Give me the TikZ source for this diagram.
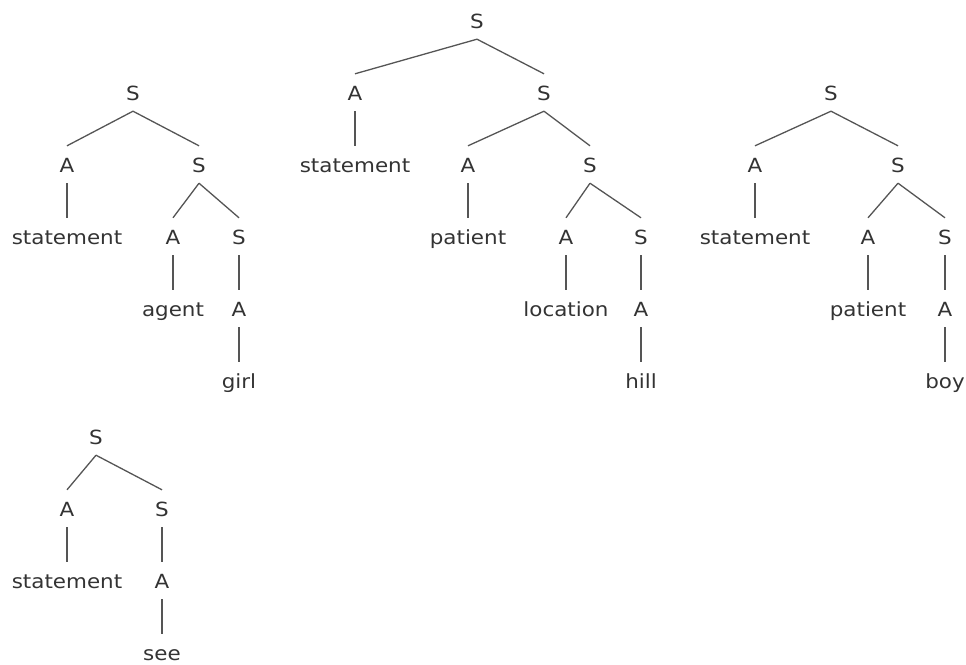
\documentclass[tikz,border=0pt]{standalone}
\usepackage{fontspec}
\setmainfont[FakeStretch=1.1]{DejaVu Sans}
\definecolor{txt}{HTML}{333333}
\definecolor{ln}{HTML}{555555}
\begin{document}
\begin{tikzpicture}[x=1pt,y=-1pt,
  lbl/.style={anchor=base,inner xsep=0pt,inner ysep=11pt,text height=15pt,text depth=0pt,
    font=\fontsize{19.5}{20}\selectfont,text=txt},
  edge/.style={draw=ln,line width=1.3pt}]
\useasboundingbox (0,0) rectangle (966,664);
% Tree 1
\node[lbl] (a0) at (133,100) {S};
\node[lbl] (a1) at (67,172) {A};
\node[lbl] (a2) at (199,172) {S};
\node[lbl] (a3) at (67,244) {statement};
\node[lbl] (a4) at (173,244) {A};
\node[lbl] (a5) at (239,244) {S};
\node[lbl] (a6) at (173,316) {agent};
\node[lbl] (a7) at (239,316) {A};
\node[lbl] (a8) at (239,388) {girl};
\draw[edge] (a0.south) -- (a1.north);
\draw[edge] (a0.south) -- (a2.north);
\draw[edge] (a1.south) -- (a3.north);
\draw[edge] (a2.south) -- (a4.north);
\draw[edge] (a2.south) -- (a5.north);
\draw[edge] (a4.south) -- (a6.north);
\draw[edge] (a5.south) -- (a7.north);
\draw[edge] (a7.south) -- (a8.north);
% Tree 2
\node[lbl] (b0) at (477,28) {S};
\node[lbl] (b1) at (355,100) {A};
\node[lbl] (b2) at (544,100) {S};
\node[lbl] (b3) at (355,172) {statement};
\node[lbl] (b4) at (468,172) {A};
\node[lbl] (b5) at (590,172) {S};
\node[lbl] (b6) at (468,244) {patient};
\node[lbl] (b7) at (566,244) {A};
\node[lbl] (b8) at (641,244) {S};
\node[lbl] (b9) at (566,316) {location};
\node[lbl] (b10) at (641,316) {A};
\node[lbl] (b11) at (641,388) {hill};
\draw[edge] (b0.south) -- (b1.north);
\draw[edge] (b0.south) -- (b2.north);
\draw[edge] (b1.south) -- (b3.north);
\draw[edge] (b2.south) -- (b4.north);
\draw[edge] (b2.south) -- (b5.north);
\draw[edge] (b4.south) -- (b6.north);
\draw[edge] (b5.south) -- (b7.north);
\draw[edge] (b5.south) -- (b8.north);
\draw[edge] (b7.south) -- (b9.north);
\draw[edge] (b8.south) -- (b10.north);
\draw[edge] (b10.south) -- (b11.north);
% Tree 3
\node[lbl] (c0) at (831,100) {S};
\node[lbl] (c1) at (755,172) {A};
\node[lbl] (c2) at (898,172) {S};
\node[lbl] (c3) at (755,244) {statement};
\node[lbl] (c4) at (868,244) {A};
\node[lbl] (c5) at (945,244) {S};
\node[lbl] (c6) at (868,316) {patient};
\node[lbl] (c7) at (945,316) {A};
\node[lbl] (c8) at (945,388) {boy};
\draw[edge] (c0.south) -- (c1.north);
\draw[edge] (c0.south) -- (c2.north);
\draw[edge] (c1.south) -- (c3.north);
\draw[edge] (c2.south) -- (c4.north);
\draw[edge] (c2.south) -- (c5.north);
\draw[edge] (c4.south) -- (c6.north);
\draw[edge] (c5.south) -- (c7.north);
\draw[edge] (c7.south) -- (c8.north);
% Tree 4
\node[lbl] (d0) at (96,444) {S};
\node[lbl] (d1) at (67,516) {A};
\node[lbl] (d2) at (162,516) {S};
\node[lbl] (d3) at (67,588) {statement};
\node[lbl] (d4) at (162,588) {A};
\node[lbl] (d5) at (162,660) {see};
\draw[edge] (d0.south) -- (d1.north);
\draw[edge] (d0.south) -- (d2.north);
\draw[edge] (d1.south) -- (d3.north);
\draw[edge] (d2.south) -- (d4.north);
\draw[edge] (d4.south) -- (d5.north);
\end{tikzpicture}
\end{document}
